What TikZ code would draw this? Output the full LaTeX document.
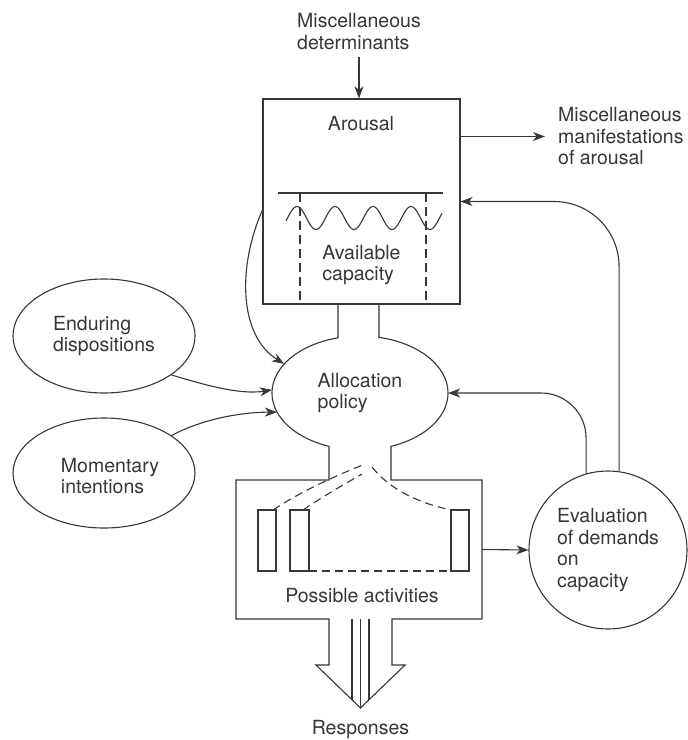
\documentclass[tikz,border=0pt]{standalone}
\usepackage{fontspec}
\setmainfont{TeX Gyre Heros}
\usetikzlibrary{shapes.geometric,arrows.meta}
\definecolor{ink}{RGB}{55,55,55}
\tikzset{
  lbl/.style={text=ink, font=\fontsize{19.5}{21.5}\selectfont, align=left, inner sep=0pt},
  oval/.style={ellipse, draw=ink, line width=1.1pt, inner sep=0pt},
  conn/.style={draw=ink, line width=1.1pt, -{Stealth[length=12pt,width=9pt,inset=3.5pt]}},
  outline/.style={draw=ink, line width=1.1pt, line join=miter},
  dashln/.style={draw=ink, line width=1.1pt, dash pattern=on 8pt off 5pt},
  vdash/.style={draw=ink, line width=1.1pt, dash pattern=on 9pt off 5pt}
}
\begin{document}
\begin{tikzpicture}[x=1pt,y=-1pt]
\fill[white] (0,0) rectangle (688,740);
\useasboundingbox (0,0) rectangle (688,740);

% arousal box
\node[draw=ink, line width=1.1pt, minimum width=197pt, minimum height=205pt, inner sep=0pt] (arousalbox) at (361.5,201.5) {};
\node[lbl] (arousal) at (361,124) {Arousal};
\draw[outline] (278,193) -- (443,193);
\draw[vdash] (300,193) -- (300,304);
\draw[vdash] (426,193) -- (426,304);
% wave: period 38, phase chosen so the first crest sits near x=297
\draw[outline] plot[domain=286:442, samples=140] (\x, {218 - 11.5*sin((\x-287.5)*9.47368)});
\node[lbl] (avail) at (361.5,264.8) {Available\\capacity};

% allocation bulb, activity box and response arrow as one outline
\node[lbl, ellipse, minimum width=176pt, minimum height=114pt] (alloc) at (360,393) {Allocation\\policy};
\draw[outline] (338,304) -- (338,337.4)
  -- plot[domain=255.5:110.6, samples=50] ({360+88*cos(\x)},{393+57*sin(\x)})
  -- (329,480) -- (236,480) -- (236,619) -- (329,619) -- (329,665) -- (316,665)
  -- (360.5,708) -- (405,665) -- (392,665) -- (392,619) -- (482,619) -- (482,480)
  -- (391,480) -- (391,446.4)
  -- plot[domain=69.4:-77.5, samples=50] ({360+88*cos(\x)},{393+57*sin(\x)})
  -- (379,337.4) -- (379,304);
\draw[outline] (352,619) -- (352,699.8);
\draw[outline] (360.5,619) -- (360.5,708);
\draw[outline] (369,619) -- (369,699.8);

% possible activities
\node[minimum width=246pt, minimum height=139pt, inner sep=0pt] (possbox) at (359,549.5) {};
\draw[outline] (258,510) rectangle (276,571);
\draw[outline] (290,510) rectangle (309,571);
\draw[outline] (451,510) rectangle (469,571);
\draw[dashln] (273,510) .. controls (300,492) and (335,476) .. (365,464);
\draw[dashln] (303,510) .. controls (325,495) and (345,484) .. (362,474);
\draw[dashln] (372,467) .. controls (390,490) and (420,503) .. (447,509);
\draw[dashln] (309,571) -- (451,571);
\node[lbl, anchor=base] (possact) at (362,602) {Possible activities};
\node[lbl, anchor=base] (resp) at (360.5,734) {Responses};

% outer labels and ovals
\node[lbl] (misdet) at (359,31.75) {Miscellaneous\\determinants};
\node[lbl] (manif) at (558,136.5) [anchor=west] {Miscellaneous\\manifestations\\of arousal};
\node[oval, lbl, draw=ink, line width=1.1pt, minimum width=182pt, minimum height=114pt] (endur) at (104,336) {Enduring\\dispositions};
\node[oval, minimum width=182pt, minimum height=110pt] (moment) at (104,473) {};
\node[lbl] (momtext) at (110,476) {Momentary\\intentions};
\node[lbl, circle, draw=ink, line width=1.1pt, minimum size=158pt] (evalc) at (608,550) {Evaluation\\of demands\\on\\capacity};

% connectors
\draw[conn, shorten <=7pt] (misdet.south) -- (misdet.south |- arousalbox.north);
\draw[conn] (arousalbox.east |- manif.west) -- ([xshift=-13pt]manif.west);
\draw[conn] (arousalbox.west |- 0,210) .. controls (238,265) and (238,335) .. (alloc.159);
\draw[conn] (endur.-30) .. controls (205,385) and (240,395) .. (alloc.178);
\draw[conn] (moment.29) .. controls (200,420) and (240,412) .. (alloc.193);
\draw[conn] (possbox.east) -- (evalc.west);
\draw[conn, rounded corners=45pt] (evalc.106) -- (evalc.106 |- alloc.east) -- (alloc.east);
\draw[conn, rounded corners=65pt] (evalc.82) -- (evalc.82 |- arousalbox.east) -- (arousalbox.east);
\end{tikzpicture}
\end{document}
